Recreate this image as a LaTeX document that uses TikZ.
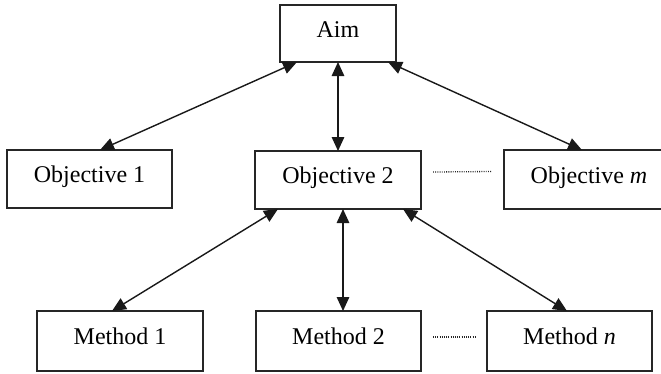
\documentclass[tikz,border=0pt]{standalone}
\usepackage{fontspec}
\setmainfont{Liberation Serif}
\usetikzlibrary{arrows.meta,calc}
\begin{document}
\begin{tikzpicture}[x=1pt,y=-1pt,
  box/.style={draw=black!85,line width=1.8pt,inner sep=0pt,outer sep=0pt,
    minimum height=58pt,text height=7pt,text depth=0pt,
    font=\fontsize{24}{28}\selectfont},
  link/.style={line width=1.4pt,black!90,{Triangle[length=14pt,width=12.5pt]}-{Triangle[length=14pt,width=12.5pt]}},
  dotline/.style={line width=1.3pt,dash pattern=on 0.9pt off 1.3pt,black!85}]
\clip (0,0) rectangle (661,373);
\fill[white] (0,0) rectangle (661,373);
\node[box,minimum width=116pt,minimum height=57pt] (aim) at (338,33.5) {Aim};
\node[box,minimum width=165pt] (obj1) at (89.5,179) {Objective 1};
\node[box,minimum width=166pt] (o2) at (338,180) {Objective 2};
\node[box,minimum width=170pt,minimum height=59pt] (om) at (589,179.5) {Objective \textit{m}};
\node[box,minimum width=166pt,minimum height=60pt] (m1) at (120,341) {Method 1};
\node[box,minimum width=165pt,minimum height=60pt] (m2) at (338.5,341) {Method 2};
\node[box,minimum width=165pt,minimum height=60pt] (mn) at (569.5,341) {Method \textit{n}};
\draw[link] ($(aim.south west)+(17,0)$) -- ($(obj1.north west)+(93,0)$);
\draw[link] (aim.south) -- (o2.north);
\draw[link] ($(aim.south east)+(-8,0)$) -- ($(om.north west)+(78,0)$);
\draw[link] ($(o2.south west)+(23,0)$) -- ($(m1.north west)+(75,0)$);
\draw[link] ($(o2.south)+(5,0)$) -- ($(m2.north)+(4.5,0)$);
\draw[link] ($(o2.south east)+(-18,0)$) -- ($(mn.north west)+(80,0)$);
\draw[dotline] ($(o2.east)+(12,-8)$) -- ($(om.west)+(-12,-8)$);
\draw[dotline] ($(m2.east)+(12,-4)$) -- ($(mn.west)+(-12,-4)$);
\end{tikzpicture}
\end{document}
